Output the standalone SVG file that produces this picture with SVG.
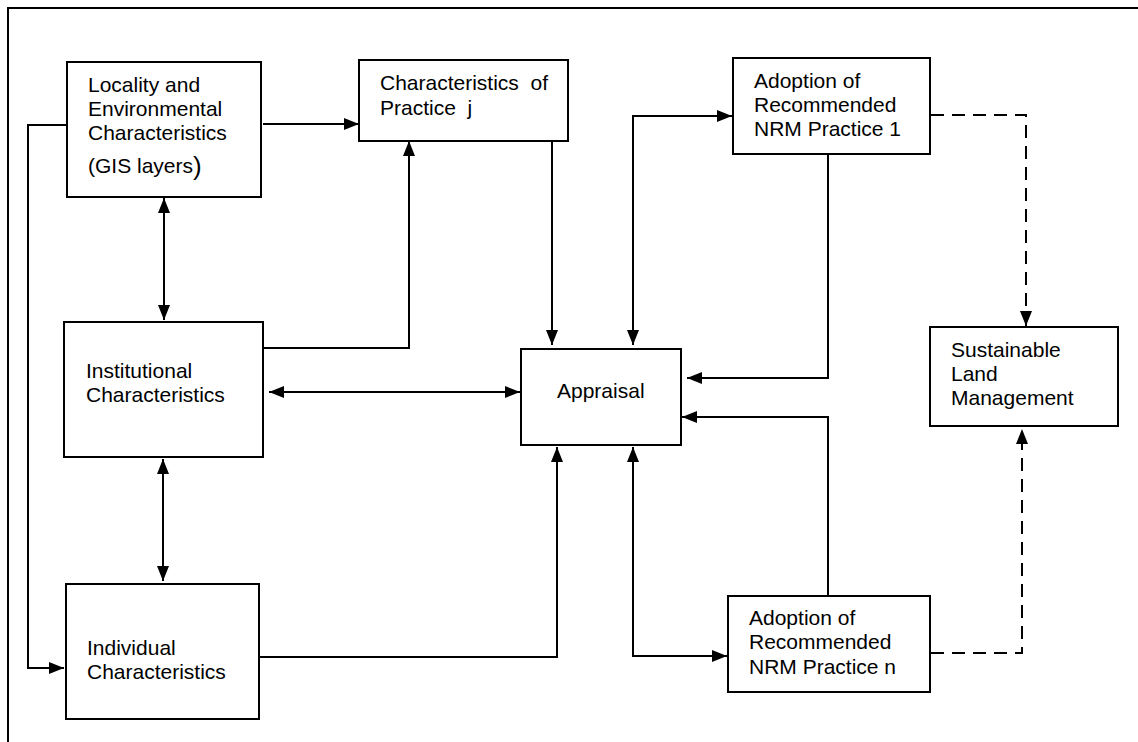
<svg xmlns="http://www.w3.org/2000/svg" width="1138" height="742" viewBox="0 0 1138 742">
<style>
.box{fill:#fff;stroke:#000;stroke-width:2}
.t{font-family:"Liberation Sans",Arial,sans-serif;font-size:21px;fill:#000;white-space:pre}
.c{fill:none;stroke:#000;stroke-width:2}
.d{stroke-dasharray:13 8}
</style>
<defs>
<marker id="ah" viewBox="0 0 15 12" refX="15" refY="6" markerWidth="15" markerHeight="12" markerUnits="userSpaceOnUse" orient="auto-start-reverse">
<path d="M0,0 L15,6 L0,12 z" fill="#000"/>
</marker>
</defs>
<rect x="0" y="0" width="1138" height="742" fill="#fff"/>
<g id="frame">
<path d="M8,742 V8 H1138" fill="none" stroke="#000" stroke-width="2"/>
</g>
<g id="connectors">
<path class="c" d="M263,124 H359" marker-end="url(#ah)"/>
<path class="c" d="M66,125 H28 V668 H64" marker-end="url(#ah)"/>
<path class="c" d="M164,198 V320" marker-start="url(#ah)" marker-end="url(#ah)"/>
<path class="c" d="M262,348 H409 V141" marker-end="url(#ah)"/>
<path class="c" d="M269,392 H520" marker-start="url(#ah)" marker-end="url(#ah)"/>
<path class="c" d="M163,459 V581" marker-start="url(#ah)" marker-end="url(#ah)"/>
<path class="c" d="M259,657 H557 V447" marker-end="url(#ah)"/>
<path class="c" d="M552,138 V345" marker-end="url(#ah)"/>
<path class="c" d="M633,345 V116 H732" marker-start="url(#ah)" marker-end="url(#ah)"/>
<path class="c" d="M828,150 V378 H687" marker-end="url(#ah)"/>
<path class="c" d="M828,600 V417 H682" marker-end="url(#ah)"/>
<path class="c" d="M633,447 V656 H727" marker-start="url(#ah)" marker-end="url(#ah)"/>
<path class="c d" d="M931,115 H1026 V326" marker-end="url(#ah)"/>
<path class="c d" d="M931,653 H1022 V429" marker-end="url(#ah)"/>
</g>
<g id="locality">
<rect class="box" x="67" y="62" width="194" height="135"/>
<text class="t" x="88" y="92">Locality and</text>
<text class="t" x="88" y="116">Environmental</text>
<text class="t" x="88" y="140">Characteristics</text>
<text class="t" x="88" y="173">(GIS layers<tspan font-size="26" dy="1.5">)</tspan></text>
</g>
<g id="practice">
<rect class="box" x="359" y="60" width="209" height="81"/>
<text class="t" x="380" y="90">Characteristics  of</text>
<text class="t" x="380" y="115">Practice  j</text>
</g>
<g id="adoption1">
<rect class="box" x="733" y="58" width="197" height="96"/>
<text class="t" x="754" y="88">Adoption of</text>
<text class="t" x="754" y="112">Recommended</text>
<text class="t" x="754" y="136">NRM Practice 1</text>
</g>
<g id="sustainable">
<rect class="box" x="930" y="327" width="188" height="99"/>
<text class="t" x="951" y="357">Sustainable</text>
<text class="t" x="951" y="381">Land</text>
<text class="t" x="951" y="405">Management</text>
</g>
<g id="institutional">
<rect class="box" x="64" y="322" width="199" height="135"/>
<text class="t" x="86" y="378">Institutional</text>
<text class="t" x="86" y="402">Characteristics</text>
</g>
<g id="individual">
<rect class="box" x="66" y="584" width="193" height="135"/>
<text class="t" x="87" y="655">Individual</text>
<text class="t" x="87" y="679">Characteristics</text>
</g>
<g id="appraisal">
<rect class="box" x="521" y="349" width="160" height="96"/>
<text class="t" x="557" y="398">Appraisal</text>
</g>
<g id="adoptionn">
<rect class="box" x="728" y="596" width="202" height="96"/>
<text class="t" x="749" y="625">Adoption of</text>
<text class="t" x="749" y="649">Recommended</text>
<text class="t" x="749" y="674">NRM Practice n</text>
</g>
</svg>
